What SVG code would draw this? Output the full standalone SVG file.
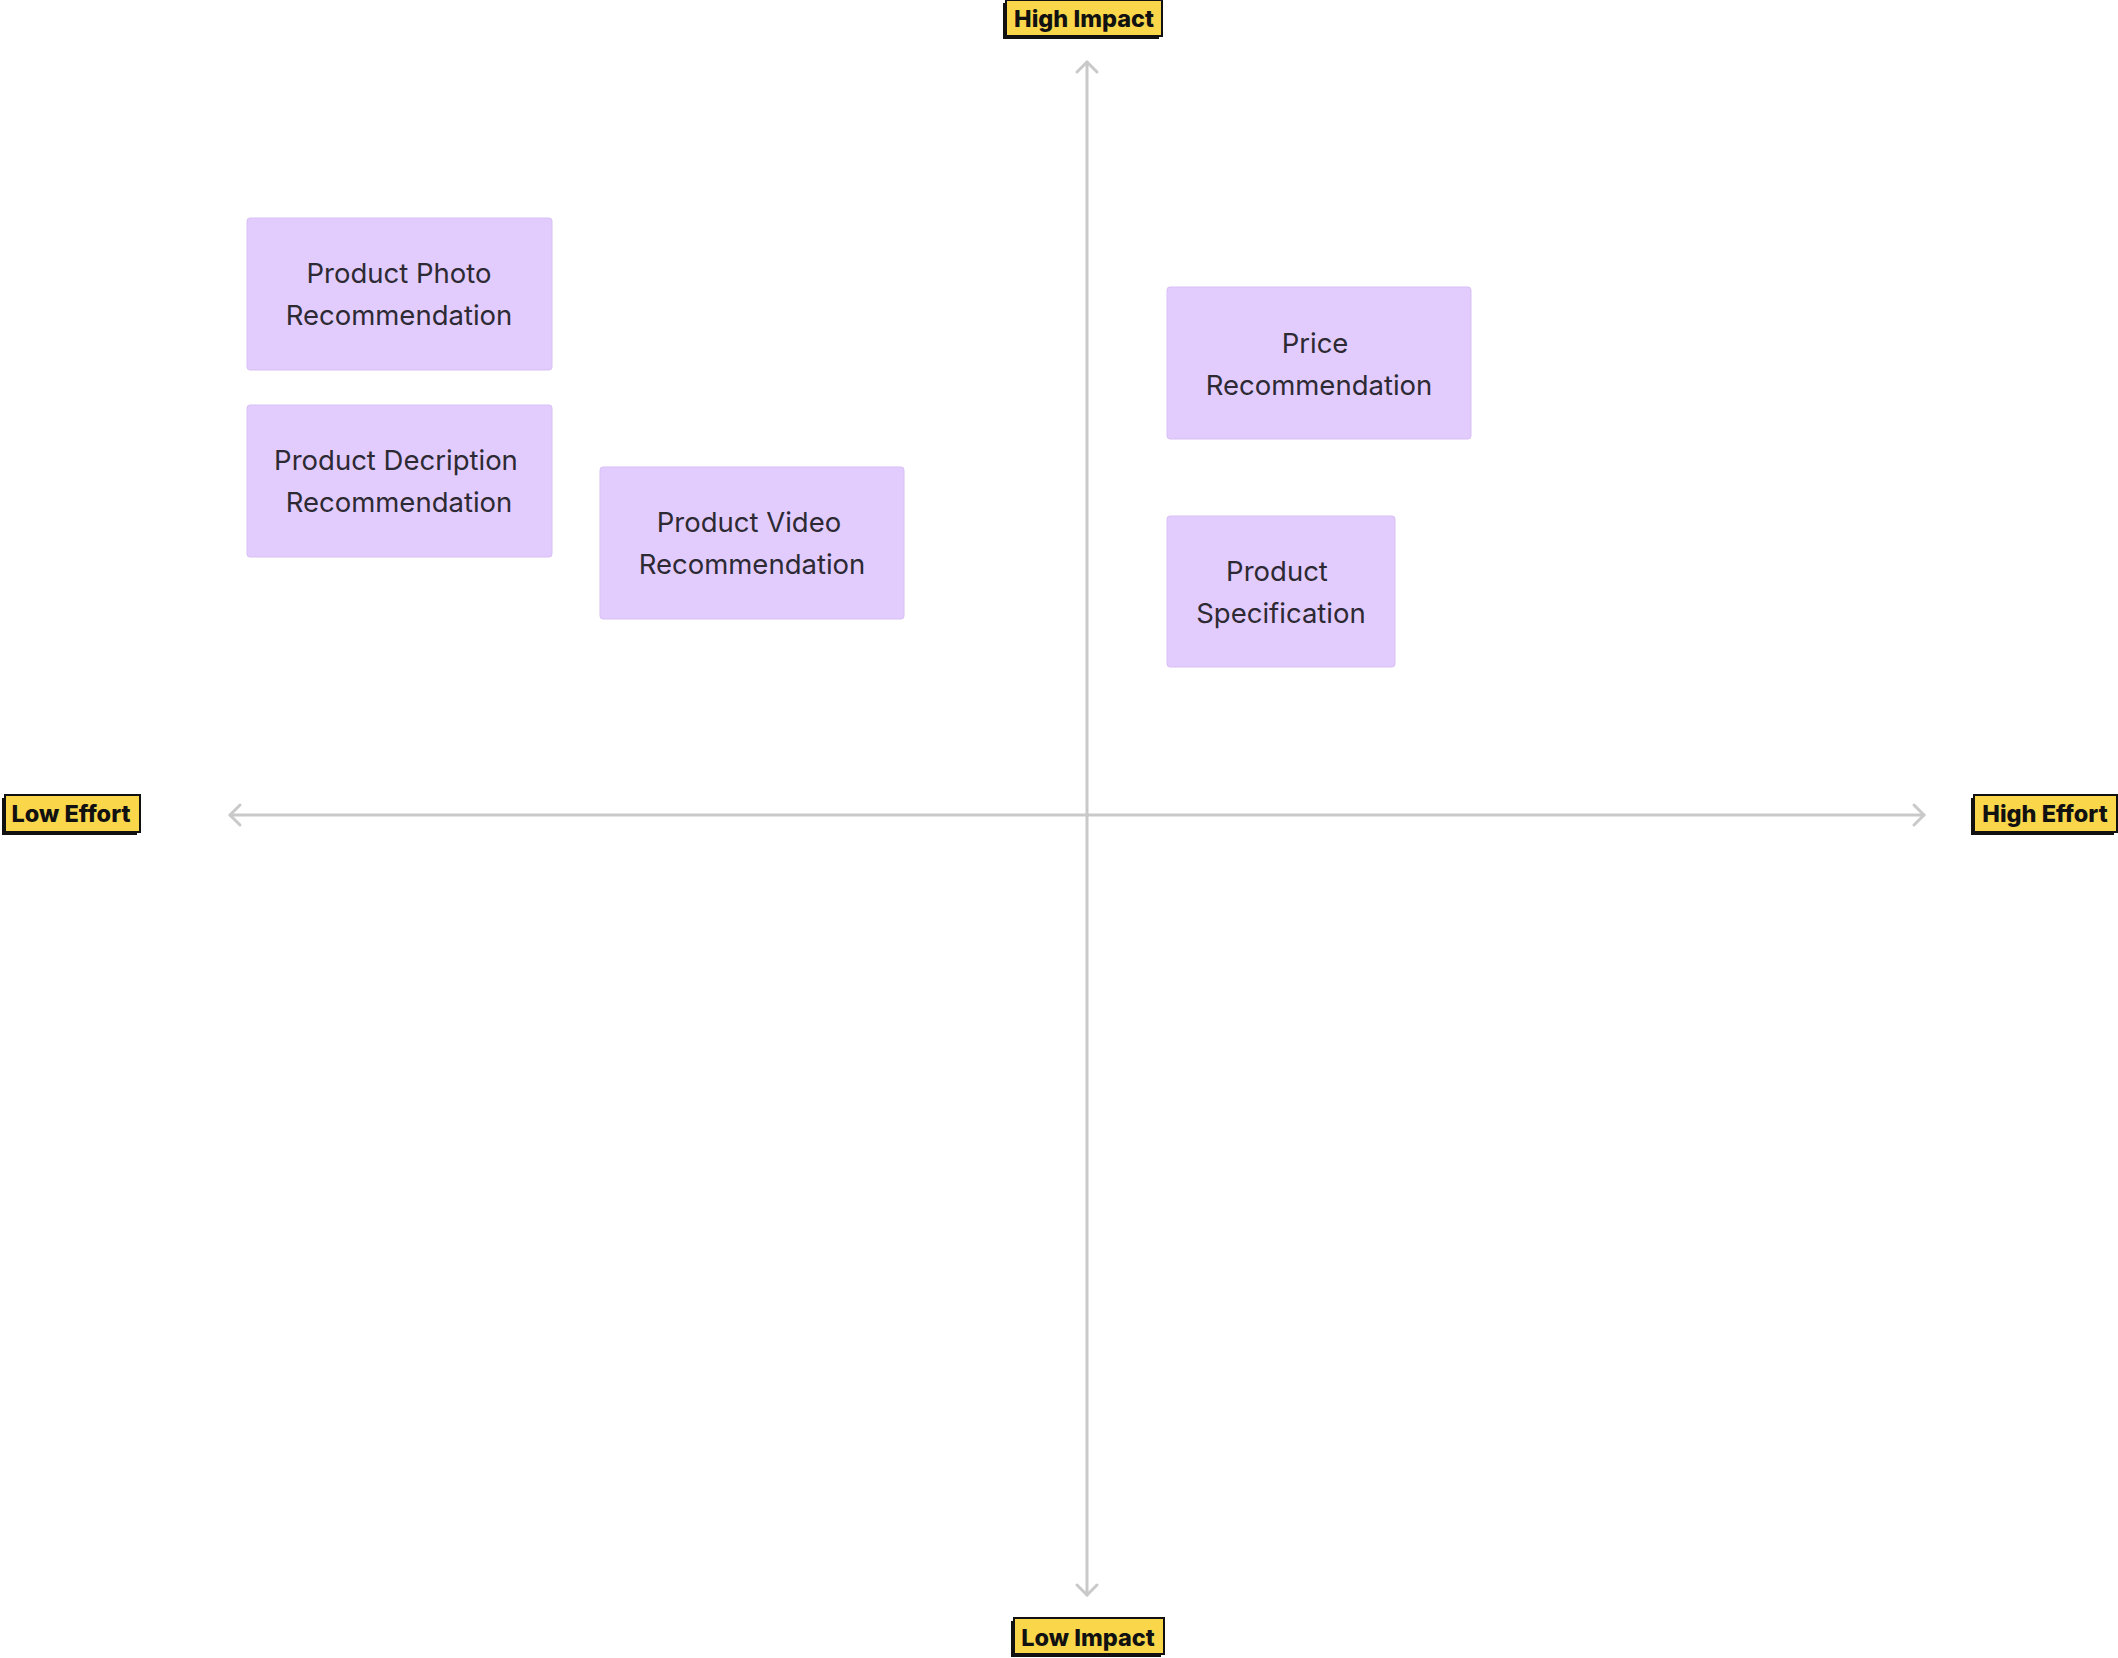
<svg xmlns="http://www.w3.org/2000/svg" width="2118" height="1658" viewBox="0 0 2118 1658">
<style>
.note{fill:#e2ccfd;stroke:#d8bff6;stroke-width:1}
.nt{font-family:Inter,"Liberation Sans",sans-serif;font-size:27.5px;fill:#2d2a33;text-anchor:middle}
.lab{fill:#fad64b;stroke:#111;stroke-width:2}
.shadow{fill:#111}
.lt{font-family:Inter,"Liberation Sans",sans-serif;font-size:23.5px;font-weight:800;fill:#111;text-anchor:middle}
.axis{stroke:#c9c9c9;stroke-width:3;fill:none;stroke-linecap:round;stroke-linejoin:round}
</style>
<rect width="2118" height="1658" fill="#ffffff"/>
<g id="connectors">
<line class="axis" x1="1087" y1="62" x2="1087" y2="1595"/>
<polyline class="axis" points="1077,72 1087,62 1097,72"/>
<polyline class="axis" points="1077,1585 1087,1595 1097,1585"/>
<line class="axis" x1="230" y1="815" x2="1924" y2="815"/>
<polyline class="axis" points="240,805 230,815 240,825"/>
<polyline class="axis" points="1914,805 1924,815 1914,825"/>
</g>
<g id="label-high-impact">
<rect class="shadow" x="1003" y="3" width="156" height="36"/>
<rect class="lab" x="1006" y="0" width="156" height="36"/>
<text class="lt" x="1084" y="27">High Impact</text>
</g>
<g id="label-low-impact">
<rect class="shadow" x="1011" y="1621" width="150" height="36"/>
<rect class="lab" x="1014" y="1618" width="150" height="36"/>
<text class="lt" x="1088" y="1646">Low Impact</text>
</g>
<g id="label-low-effort">
<rect class="shadow" x="2" y="798" width="135" height="37"/>
<rect class="lab" x="5" y="795" width="135" height="37"/>
<text class="lt" x="71" y="822">Low Effort</text>
</g>
<g id="label-high-effort">
<rect class="shadow" x="1971" y="798" width="143" height="37"/>
<rect class="lab" x="1974" y="795" width="143" height="37"/>
<text class="lt" x="2045" y="822">High Effort</text>
</g>
<g id="node-photo">
<rect class="note" x="247" y="218" width="305" height="152" rx="3"/>
<text class="nt" x="399" y="283">Product Photo</text>
<text class="nt" x="399" y="325">Recommendation</text>
</g>
<g id="node-description">
<rect class="note" x="247" y="405" width="305" height="152" rx="3"/>
<text class="nt" x="396" y="470">Product Decription</text>
<text class="nt" x="399" y="512">Recommendation</text>
</g>
<g id="node-video">
<rect class="note" x="600" y="467" width="304" height="152" rx="3"/>
<text class="nt" x="749" y="532">Product Video</text>
<text class="nt" x="752" y="574">Recommendation</text>
</g>
<g id="node-price">
<rect class="note" x="1167" y="287" width="304" height="152" rx="3"/>
<text class="nt" x="1315" y="353">Price</text>
<text class="nt" x="1319" y="395">Recommendation</text>
</g>
<g id="node-spec">
<rect class="note" x="1167" y="516" width="228" height="151" rx="3"/>
<text class="nt" x="1277" y="581">Product</text>
<text class="nt" x="1281" y="623">Specification</text>
</g>
</svg>
